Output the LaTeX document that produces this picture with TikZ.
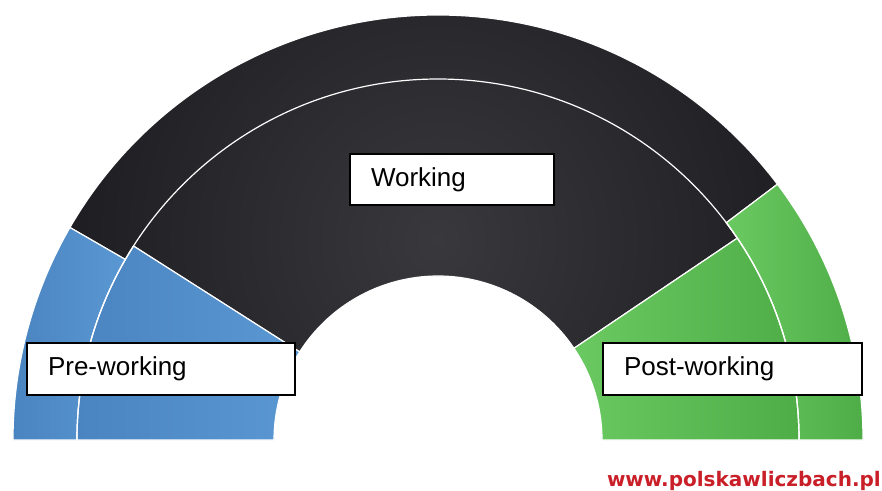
\documentclass[tikz,border=0pt]{standalone}
\usepackage{fontspec}
\setmainfont{Liberation Sans}
\newfontfamily\wwwfont{DejaVu Sans}

\definecolor{darkseg}{HTML}{19181C}
\definecolor{greyseg}{HTML}{39383D}
\definecolor{blueL}{HTML}{4A84C1}
\definecolor{blueR}{HTML}{5A98D3}
\definecolor{greenL}{HTML}{6BC962}
\definecolor{greenR}{HTML}{4FAD47}
\definecolor{wwwred}{HTML}{C91F29}

\tikzset{
  seg/.style={draw=white, line width=0.9pt},
  lbl/.style={draw=black, line width=1.3pt, fill=white, minimum height=38.5pt,
    inner xsep=15.75pt, text width=#1, align=left,
    font=\fontsize{19.5}{23}\selectfont},
}

\begin{document}
\begin{tikzpicture}[x=0.75pt, y=0.75pt]
  \useasboundingbox (0,0) rectangle (882,490);

  \begin{scope}[shift={(438,50)}]
    % black part, both rings
    \begin{scope}
      \clip (150:425) arc[start angle=150, end angle=37, radius=425]
        -- (37:361) arc[start angle=37, end angle=34, radius=361]
        -- (34:164) arc[start angle=34, end angle=147.5, radius=164]
        -- (147.5:361) arc[start angle=147.5, end angle=150, radius=361] -- cycle;
      \shade[inner color=greyseg, outer color=darkseg] (0,200) circle (440);
    \end{scope}
    \draw[seg] (150:425) arc[start angle=150, end angle=37, radius=425]
      -- (37:361) arc[start angle=37, end angle=34, radius=361]
      -- (34:164) arc[start angle=34, end angle=147.5, radius=164]
      -- (147.5:361) arc[start angle=147.5, end angle=150, radius=361] -- cycle;

    % blue
    \shadedraw[seg, left color=blueL, right color=blueR]
      (180:425) arc[start angle=180, end angle=150, radius=425]
      -- (150:361) arc[start angle=150, end angle=180, radius=361] -- cycle;
    \shadedraw[seg, left color=blueL, right color=blueR]
      (180:361) arc[start angle=180, end angle=147.5, radius=361]
      -- (147.5:164) arc[start angle=147.5, end angle=180, radius=164] -- cycle;

    % green
    \shadedraw[seg, left color=greenL, right color=greenR]
      (37:425) arc[start angle=37, end angle=0, radius=425]
      -- (0:361) arc[start angle=0, end angle=37, radius=361] -- cycle;
    \shadedraw[seg, left color=greenL, right color=greenR]
      (34:361) arc[start angle=34, end angle=0, radius=361]
      -- (0:164) arc[start angle=0, end angle=34, radius=164] -- cycle;

    % ring separator
    \draw[seg] (0:361) arc[start angle=0, end angle=180, radius=361];
  \end{scope}

  \node[lbl=121.5pt] (working) at (452,310.5) {Working};
  \node[lbl=169.5pt] (pre) at (161,121) {Pre-working};
  \node[lbl=162.75pt] (post) at (732.5,121) {Post-working};

  \node[anchor=east, inner sep=0pt, text=wwwred,
    font=\wwwfont\bfseries\fontsize{15}{18}\selectfont] (www) at (881,9)
    {www.polskawliczbach.pl};
\end{tikzpicture}
\end{document}
